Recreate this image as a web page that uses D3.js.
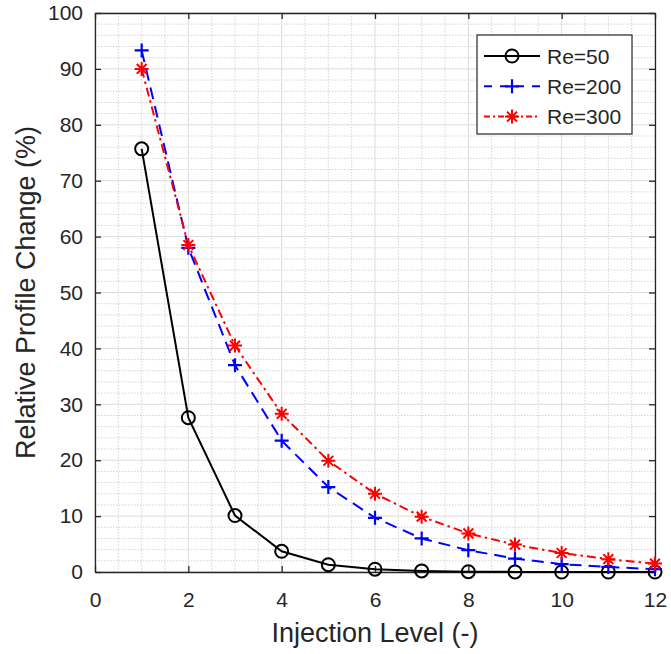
<!DOCTYPE html>
<html>
<head>
<meta charset="utf-8">
<script src="https://cdn.jsdelivr.net/npm/d3@7"></script>
<style>
  body { margin: 0; background: #fff; }
  text { font-family: "Liberation Sans", Arial, sans-serif; fill: #262626; }
</style>
</head>
<body>
<div class="canvas"></div>
<script>
// data
const levels = [1, 2, 3, 4, 5, 6, 7, 8, 9, 10, 11, 12];
const re50  = [75.7, 27.6, 10.1, 3.7, 1.3, 0.5, 0.2, 0.05, 0.02, 0, 0, 0];
const re200 = [93.3, 58.0, 37.0, 23.5, 15.2, 9.7, 6.0, 3.9, 2.4, 1.4, 0.9, 0.5];
const re300 = [90.0, 58.5, 40.5, 28.3, 19.9, 14.0, 9.9, 6.9, 4.9, 3.4, 2.3, 1.5];
const seriesNames = ['Re=50', 'Re=200', 'Re=300'];
const xTicks = [0, 2, 4, 6, 8, 10, 12];
const yTicks = [0, 10, 20, 30, 40, 50, 60, 70, 80, 90, 100];

const dims = { width: 671, height: 654 };
const box = { left: 95, top: 13, right: 655, bottom: 572 };

const svg = d3.select('.canvas')
  .append('svg')
    .attr('width', dims.width)
    .attr('height', dims.height);

const x = d3.scaleLinear().domain([0, 12]).range([box.left, box.right]);
const y = d3.scaleLinear().domain([0, 100]).range([box.bottom, box.top]);

const grid = svg.append('g');

// minor grid
d3.range(0, 12.01, 0.5).filter(v => v % 2 !== 0).forEach(v => {
  grid.append('line')
    .attr('x1', x(v)).attr('x2', x(v)).attr('y1', box.top).attr('y2', box.bottom)
    .attr('stroke', '#d4d4d4').attr('stroke-width', 1).attr('stroke-dasharray', '1.5,1.5');
});
d3.range(0, 100.01, 2).filter(v => v % 10 !== 0).forEach(v => {
  grid.append('line')
    .attr('x1', box.left).attr('x2', box.right).attr('y1', y(v)).attr('y2', y(v))
    .attr('stroke', '#d4d4d4').attr('stroke-width', 1).attr('stroke-dasharray', '1.5,1.5');
});

// major grid
xTicks.forEach(v => {
  grid.append('line')
    .attr('x1', x(v)).attr('x2', x(v)).attr('y1', box.top).attr('y2', box.bottom)
    .attr('stroke', '#dcdcdc').attr('stroke-width', 1);
});
yTicks.forEach(v => {
  grid.append('line')
    .attr('x1', box.left).attr('x2', box.right).attr('y1', y(v)).attr('y2', y(v))
    .attr('stroke', '#dcdcdc').attr('stroke-width', 1);
});

// axes (ticks inside, matlab style)
const tickLen = 6;
const xAxis = svg.append('g')
  .attr('transform', `translate(0, ${box.bottom})`)
  .call(d3.axisBottom(x).tickValues(xTicks).tickSizeInner(-tickLen).tickSizeOuter(0).tickPadding(20));
const yAxis = svg.append('g')
  .attr('transform', `translate(${box.left}, 0)`)
  .call(d3.axisLeft(y).tickValues(yTicks).tickSizeInner(-tickLen).tickSizeOuter(0).tickPadding(12));
const xTop = svg.append('g')
  .attr('transform', `translate(0, ${box.top})`)
  .call(d3.axisTop(x).tickValues(xTicks).tickSizeInner(-tickLen).tickSizeOuter(0).tickFormat(''));
const yRight = svg.append('g')
  .attr('transform', `translate(${box.right}, 0)`)
  .call(d3.axisRight(y).tickValues(yTicks).tickSizeInner(-tickLen).tickSizeOuter(0).tickFormat(''));

[xAxis, yAxis, xTop, yRight].forEach(a => {
  a.select('.domain').attr('stroke', '#262626').attr('stroke-width', 1.3);
  a.selectAll('.tick line').attr('stroke', '#262626').attr('stroke-width', 1.3);
  a.selectAll('.tick text')
    .attr('font-size', 21)
    .attr('font-family', '"Liberation Sans", Arial, sans-serif')
    .attr('fill', '#262626');
});

// axis labels
svg.append('text')
  .attr('x', (box.left + box.right) / 2)
  .attr('y', 642)
  .attr('text-anchor', 'middle')
  .attr('font-size', 27)
  .text('Injection Level (-)');

svg.append('text')
  .attr('transform', `translate(35, ${(box.top + box.bottom) / 2}) rotate(-90)`)
  .attr('text-anchor', 'middle')
  .attr('font-size', 27)
  .text('Relative Profile Change (%)');

// series
const series = [
  { name: seriesNames[0], values: re50,  color: '#000000', dash: null,       marker: 'circle' },
  { name: seriesNames[1], values: re200, color: '#0000ff', dash: '12,7',      marker: 'plus' },
  { name: seriesNames[2], values: re300, color: '#ff0000', dash: '9,4,2.5,4', marker: 'star' }
];

const line = d3.line()
  .x((d, i) => x(levels[i]))
  .y(d => y(d));

const plot = svg.append('g');

const drawMarker = (g, type, cx, cy, color) => {
  if (type === 'circle') {
    g.append('circle')
      .attr('cx', cx).attr('cy', cy).attr('r', 6.5)
      .attr('fill', 'none').attr('stroke', color).attr('stroke-width', 2);
  } else if (type === 'plus') {
    const s = 7;
    g.append('path')
      .attr('d', `M${cx - s},${cy}H${cx + s}M${cx},${cy - s}V${cy + s}`)
      .attr('stroke', color).attr('stroke-width', 2.2).attr('fill', 'none');
  } else {
    const s = 7, d = s * 0.7;
    g.append('path')
      .attr('d', `M${cx - s},${cy}H${cx + s}M${cx},${cy - s}V${cy + s}` +
                 `M${cx - d},${cy - d}L${cx + d},${cy + d}M${cx - d},${cy + d}L${cx + d},${cy - d}`)
      .attr('stroke', color).attr('stroke-width', 2).attr('fill', 'none');
  }
};

series.forEach(s => {
  plot.append('path')
    .datum(s.values)
    .attr('d', line)
    .attr('fill', 'none')
    .attr('stroke', s.color)
    .attr('stroke-width', 2)
    .attr('stroke-dasharray', s.dash);
  s.values.forEach((v, i) => drawMarker(plot, s.marker, x(levels[i]), y(v), s.color));
});

// legend
const legend = svg.append('g');
legend.append('rect')
  .attr('x', 477).attr('y', 35).attr('width', 155).attr('height', 99)
  .attr('fill', '#fff').attr('stroke', '#262626').attr('stroke-width', 1.2);

series.forEach((s, i) => {
  const ly = 56 + i * 30.3;
  legend.append('line')
    .attr('x1', 484).attr('x2', 540).attr('y1', ly).attr('y2', ly)
    .attr('stroke', s.color).attr('stroke-width', 2)
    .attr('stroke-dasharray', s.dash ? (i === 1 ? '8,8' : '6,3,2,3') : null);
  drawMarker(legend, s.marker, 512, ly, s.color);
  legend.append('text')
    .attr('x', 547).attr('y', ly)
    .attr('dominant-baseline', 'central')
    .attr('font-size', 21)
    .text(s.name);
});
</script>
</body>
</html>
